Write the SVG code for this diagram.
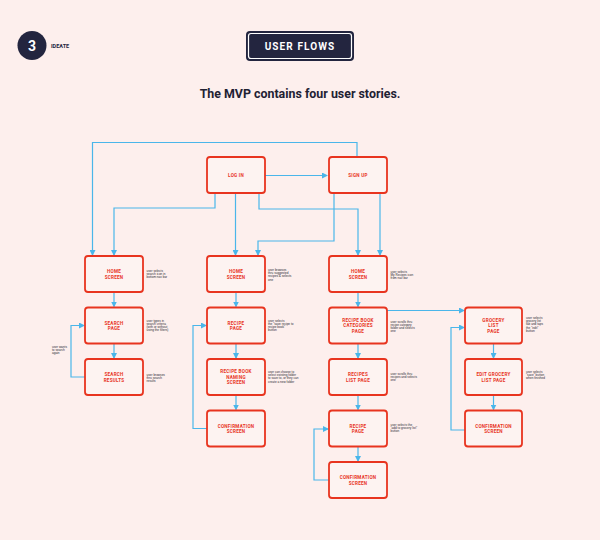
<svg xmlns="http://www.w3.org/2000/svg" width="600" height="540" viewBox="0 0 600 540">
<style>
.node rect{fill:#fdf3f1;stroke:#e8341f;stroke-width:1.8}
.nt{font-family:Roboto,"Liberation Sans",sans-serif;font-weight:700;font-size:4.6px;fill:#e8341f;text-anchor:middle;letter-spacing:0.25px}
.an{font-family:"Liberation Sans",Arial,sans-serif;font-size:3.1px;fill:#2a2a35}
.c{fill:none;stroke:#4ab6ea;stroke-width:1.2}
</style>
<defs>
<marker id="ah" markerUnits="userSpaceOnUse" markerWidth="6" markerHeight="6" refX="5" refY="3" orient="auto">
<path d="M0,0 L6,3 L0,6 Z" fill="#4ab6ea"/>
</marker>
</defs>
<rect width="600" height="540" fill="#fdefed"/>
<g id="header">
<circle cx="32" cy="45.5" r="14.5" fill="#23253f"/>
<text x="32" y="50.5" font-family="Roboto,'Liberation Sans',sans-serif" font-weight="700" font-size="14" fill="#ffffff" text-anchor="middle">3</text>
<text x="51" y="47.5" font-family="Roboto,'Liberation Sans',sans-serif" font-weight="700" font-size="5.5" fill="#23253f">IDEATE</text>
<rect x="246" y="31" width="108" height="30" rx="4" fill="#23253f"/>
<rect x="248.5" y="33.5" width="103" height="25" rx="2.5" fill="none" stroke="#ffffff" stroke-width="1.2"/>
<text x="300" y="50" font-family="Roboto,'Liberation Sans',sans-serif" font-weight="700" font-size="10" fill="#ffffff" text-anchor="middle" letter-spacing="1.1">USER FLOWS</text>
<text x="300" y="98" font-family="Roboto,'Liberation Sans',sans-serif" font-weight="700" font-size="12.4" fill="#1f2133" text-anchor="middle">The MVP contains four user stories.</text>
</g>
<g id="connectors">
<path class="c" d="M265,175.5 H327" marker-end="url(#ah)"/>
<path class="c" d="M357,157 V142.5 H92.5 V255" marker-end="url(#ah)"/>
<path class="c" d="M215,193 V208 H114 V255" marker-end="url(#ah)"/>
<path class="c" d="M235.5,193 V255" marker-end="url(#ah)"/>
<path class="c" d="M259,193 V209 H358 V255" marker-end="url(#ah)"/>
<path class="c" d="M334,193 V241 H258 V255" marker-end="url(#ah)"/>
<path class="c" d="M380,193 V255" marker-end="url(#ah)"/>
<path class="c" d="M114,292 V306.5" marker-end="url(#ah)"/>
<path class="c" d="M114,343.5 V358" marker-end="url(#ah)"/>
<path class="c" d="M85,377 H71 V325.5 H84" marker-end="url(#ah)"/>
<path class="c" d="M236,292 V306.5" marker-end="url(#ah)"/>
<path class="c" d="M236,343.5 V358" marker-end="url(#ah)"/>
<path class="c" d="M236,395 V409.5" marker-end="url(#ah)"/>
<path class="c" d="M207,428.5 H193 V325.5 H206" marker-end="url(#ah)"/>
<path class="c" d="M358,292 V306.5" marker-end="url(#ah)"/>
<path class="c" d="M358,343.5 V358" marker-end="url(#ah)"/>
<path class="c" d="M358,395 V409.5" marker-end="url(#ah)"/>
<path class="c" d="M358,446.5 V461" marker-end="url(#ah)"/>
<path class="c" d="M329,480 H314 V429 H328" marker-end="url(#ah)"/>
<path class="c" d="M387,310.5 H464" marker-end="url(#ah)"/>
<path class="c" d="M493.5,343.5 V358" marker-end="url(#ah)"/>
<path class="c" d="M493.5,395 V409.5" marker-end="url(#ah)"/>
<path class="c" d="M465,430 H451 V327.5 H464" marker-end="url(#ah)"/>
</g>
<g id="login" class="node"><rect x="207" y="157" width="58" height="36" rx="3"/><text class="nt" x="236" y="176.6">LOG IN</text></g>
<g id="signup" class="node"><rect x="329" y="157" width="58" height="36" rx="3"/><text class="nt" x="358" y="176.6">SIGN UP</text></g>

<g id="home1" class="node"><rect x="85" y="256" width="58" height="36" rx="3"/><text class="nt" x="114" y="273">HOME</text><text class="nt" x="114" y="278.5">SCREEN</text></g>
<g id="search-page" class="node"><rect x="85" y="307.5" width="58" height="36" rx="3"/><text class="nt" x="114" y="324.5">SEARCH</text><text class="nt" x="114" y="330">PAGE</text></g>
<g id="search-results" class="node"><rect x="85" y="359" width="58" height="36" rx="3"/><text class="nt" x="114" y="376">SEARCH</text><text class="nt" x="114" y="381.5">RESULTS</text></g>

<g id="home2" class="node"><rect x="207" y="256" width="58" height="36" rx="3"/><text class="nt" x="236" y="273">HOME</text><text class="nt" x="236" y="278.5">SCREEN</text></g>
<g id="recipe-page1" class="node"><rect x="207" y="307.5" width="58" height="36" rx="3"/><text class="nt" x="236" y="324.5">RECIPE</text><text class="nt" x="236" y="330">PAGE</text></g>
<g id="recipe-book-naming" class="node"><rect x="207" y="359" width="58" height="36" rx="3"/><text class="nt" x="236" y="373">RECIPE BOOK</text><text class="nt" x="236" y="378.5">NAMING</text><text class="nt" x="236" y="384">SCREEN</text></g>
<g id="confirm2" class="node"><rect x="207" y="410.5" width="58" height="36" rx="3"/><text class="nt" x="236" y="427.5">CONFIRMATION</text><text class="nt" x="236" y="433">SCREEN</text></g>

<g id="home3" class="node"><rect x="329" y="256" width="58" height="36" rx="3"/><text class="nt" x="358" y="273">HOME</text><text class="nt" x="358" y="278.5">SCREEN</text></g>
<g id="recipe-book-categories" class="node"><rect x="329" y="307.5" width="58" height="36" rx="3"/><text class="nt" x="358" y="321.5">RECIPE BOOK</text><text class="nt" x="358" y="327">CATEGORIES</text><text class="nt" x="358" y="332.5">PAGE</text></g>
<g id="recipes-list" class="node"><rect x="329" y="359" width="58" height="36" rx="3"/><text class="nt" x="358" y="376">RECIPES</text><text class="nt" x="358" y="381.5">LIST PAGE</text></g>
<g id="recipe-page3" class="node"><rect x="329" y="410.5" width="58" height="36" rx="3"/><text class="nt" x="358" y="427.5">RECIPE</text><text class="nt" x="358" y="433">PAGE</text></g>
<g id="confirm3" class="node"><rect x="329" y="462" width="58" height="36" rx="3"/><text class="nt" x="358" y="479">CONFIRMATION</text><text class="nt" x="358" y="484.5">SCREEN</text></g>

<g id="grocery-list" class="node"><rect x="465" y="307.5" width="57" height="36" rx="3"/><text class="nt" x="493.5" y="321.5">GROCERY</text><text class="nt" x="493.5" y="327">LIST</text><text class="nt" x="493.5" y="332.5">PAGE</text></g>
<g id="edit-grocery" class="node"><rect x="465" y="359" width="57" height="36" rx="3"/><text class="nt" x="493.5" y="376">EDIT GROCERY</text><text class="nt" x="493.5" y="381.5">LIST PAGE</text></g>
<g id="confirm4" class="node"><rect x="465" y="410.5" width="57" height="36" rx="3"/><text class="nt" x="493.5" y="427.5">CONFIRMATION</text><text class="nt" x="493.5" y="433">SCREEN</text></g>

<g id="annotations">
<text class="an" x="146.5" y="272"><tspan x="146.5">user selects</tspan><tspan x="146.5" dy="3.2">search icon in</tspan><tspan x="146.5" dy="3.2">bottom nav bar</tspan></text>
<text class="an" x="146.5" y="321.5"><tspan x="146.5">user types in</tspan><tspan x="146.5" dy="3.2">search criteria</tspan><tspan x="146.5" dy="3.2">(with or without</tspan><tspan x="146.5" dy="3.2">using the filters)</tspan></text>
<text class="an" x="146.5" y="376"><tspan x="146.5">user browses</tspan><tspan x="146.5" dy="3.2">thru search</tspan><tspan x="146.5" dy="3.2">results</tspan></text>
<text class="an" x="52" y="348"><tspan x="52">user wants</tspan><tspan x="52" dy="3.2">to search</tspan><tspan x="52" dy="3.2">again</tspan></text>
<text class="an" x="268" y="271"><tspan x="268">user browses</tspan><tspan x="268" dy="3.2">thru suggested</tspan><tspan x="268" dy="3.2">recipes &amp; selects</tspan><tspan x="268" dy="3.2">one</tspan></text>
<text class="an" x="268" y="321.5"><tspan x="268">user selects</tspan><tspan x="268" dy="3.2">the "save recipe to</tspan><tspan x="268" dy="3.2">recipe book"</tspan><tspan x="268" dy="3.2">button</tspan></text>
<text class="an" x="268" y="373"><tspan x="268">user can choose to</tspan><tspan x="268" dy="3.2">select existing folder</tspan><tspan x="268" dy="3.2">to save to, or they can</tspan><tspan x="268" dy="3.2">create a new folder</tspan></text>
<text class="an" x="390.5" y="273"><tspan x="390.5">user selects</tspan><tspan x="390.5" dy="3.2">My Recipes icon</tspan><tspan x="390.5" dy="3.2">from nav bar</tspan></text>
<text class="an" x="390.5" y="322.5"><tspan x="390.5">user scrolls thru</tspan><tspan x="390.5" dy="3.2">recipe category</tspan><tspan x="390.5" dy="3.2">folder and selects</tspan><tspan x="390.5" dy="3.2">one</tspan></text>
<text class="an" x="390.5" y="375"><tspan x="390.5">user scrolls thru</tspan><tspan x="390.5" dy="3.2">recipes and selects</tspan><tspan x="390.5" dy="3.2">one</tspan></text>
<text class="an" x="390.5" y="426"><tspan x="390.5">user selects the</tspan><tspan x="390.5" dy="3.2">"add to grocery list"</tspan><tspan x="390.5" dy="3.2">button</tspan></text>
<text class="an" x="526" y="319"><tspan x="526">user selects</tspan><tspan x="526" dy="3.2">grocery list</tspan><tspan x="526" dy="3.2">tab and taps</tspan><tspan x="526" dy="3.2">the "edit"</tspan><tspan x="526" dy="3.2">button</tspan></text>
<text class="an" x="526" y="373"><tspan x="526">user selects</tspan><tspan x="526" dy="3.2">"save" button</tspan><tspan x="526" dy="3.2">when finished</tspan></text>
</g>
</svg>
